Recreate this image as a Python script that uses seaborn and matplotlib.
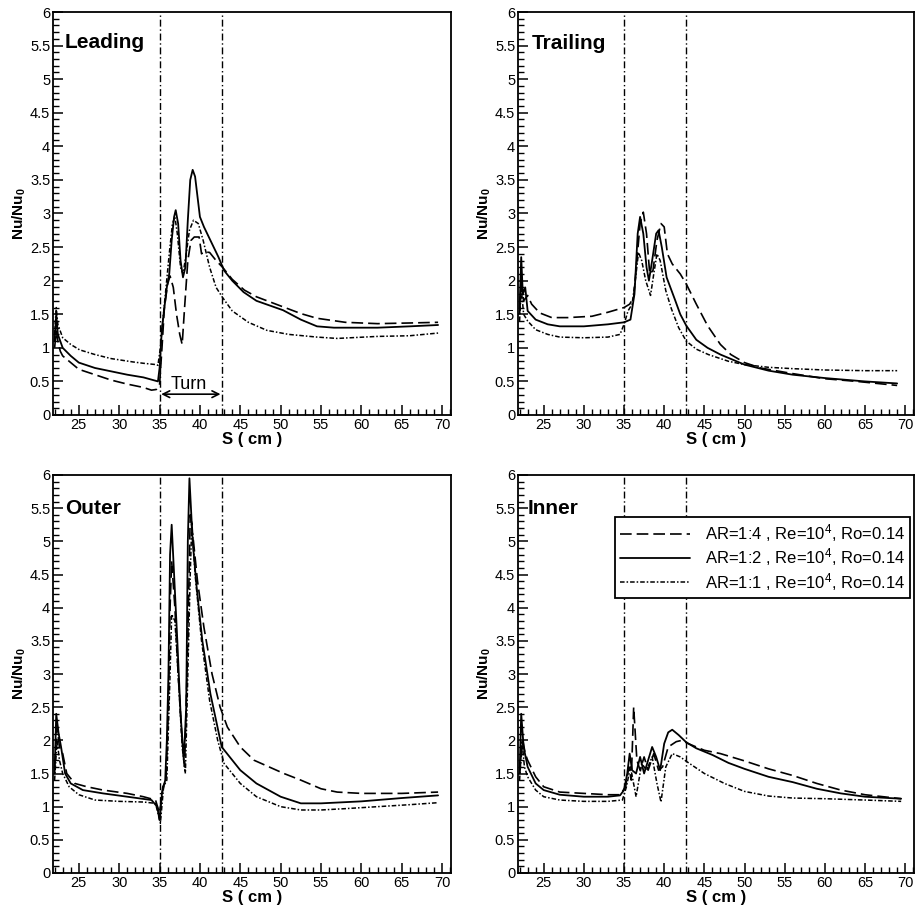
import matplotlib
matplotlib.use('Agg')
import matplotlib.pyplot as plt
from matplotlib.ticker import MultipleLocator, FormatStrFormatter
import seaborn as sns

# --- data (S in cm, Nu/Nu0) ---

# Leading
lead_14_x = [22.0, 22.2, 22.4, 22.7, 23.0, 24, 25, 27, 29, 31, 33, 34, 34.6, 35.0, 35.3, 35.6, 36.0, 36.3, 36.7, 37.1, 37.5, 37.8, 38.1, 38.5, 38.9, 39.3, 39.9, 40.2, 40.5, 41.2, 42.0, 42.8, 44, 45.5, 47, 50.3, 52.5, 54.5, 58, 62, 66, 69.5]
lead_14_y = [1.0, 1.25, 1.1, 0.95, 0.88, 0.78, 0.68, 0.6, 0.52, 0.46, 0.41, 0.37, 0.38, 0.45, 1.0, 1.6, 1.95, 2.07, 1.9, 1.5, 1.2, 1.05, 1.6, 2.3, 2.6, 2.65, 2.65, 2.4, 2.43, 2.42, 2.3, 2.2, 2.02, 1.86, 1.76, 1.61, 1.51, 1.44, 1.38, 1.36, 1.37, 1.38]
lead_12_x = [22.0, 22.2, 22.4, 22.7, 23.0, 24, 25, 27, 29, 31, 33, 34.8, 35.0, 35.3, 35.6, 35.9, 36.2, 36.5, 36.8, 37.0, 37.3, 37.6, 37.9, 38.2, 38.5, 38.8, 39.1, 39.4, 39.7, 40.0, 40.5, 41.5, 42.3, 43.0, 44, 45.4, 47, 50.3, 52.5, 54.5, 56.6, 62, 66, 69.5]
lead_12_y = [1.1, 1.5, 1.2, 1.1, 1.0, 0.88, 0.78, 0.7, 0.65, 0.6, 0.56, 0.5, 0.7, 1.3, 1.6, 1.9, 2.1, 2.6, 2.95, 3.05, 2.85, 2.3, 2.05, 2.2, 2.9, 3.5, 3.65, 3.55, 3.25, 2.95, 2.8, 2.55, 2.35, 2.15, 2.0, 1.83, 1.7, 1.56, 1.42, 1.32, 1.3, 1.3, 1.32, 1.34]
lead_11_x = [22.0, 22.2, 22.4, 22.7, 23.0, 24, 25.1, 27, 29, 31.7, 33, 34.6, 34.8, 35.1, 35.4, 35.8, 36.2, 36.6, 36.9, 37.2, 37.6, 37.9, 38.3, 38.7, 39.2, 39.8, 40.4, 41.2, 42.0, 42.8, 44, 46, 48.3, 51, 54.5, 57, 62, 66, 69.5]
lead_11_y = [1.2, 1.6, 1.35, 1.25, 1.15, 1.05, 0.97, 0.9, 0.84, 0.79, 0.77, 0.75, 0.74, 1.0, 1.4, 1.9, 2.4, 2.85, 2.95, 2.7, 2.2, 2.1, 2.4, 2.75, 2.9, 2.85, 2.6, 2.2, 1.9, 1.75, 1.55, 1.38, 1.26, 1.2, 1.16, 1.14, 1.17, 1.18, 1.22]

# Trailing
trail_14_x = [22.0, 22.2, 22.5, 23.0, 23.5, 24.5, 26, 28, 31, 33, 35, 35.7, 36.2, 36.6, 37.0, 37.4, 37.8, 38.2, 38.6, 39.1, 39.6, 40.0, 40.4, 41.0, 42.0, 42.75, 44, 45.4, 47, 48.3, 50, 52, 55.8, 60, 64, 69]
trail_14_y = [1.5, 2.0, 1.7, 1.78, 1.65, 1.52, 1.45, 1.45, 1.47, 1.53, 1.6, 1.65, 1.75, 2.3, 2.85, 3.02, 2.7, 2.1, 2.15, 2.6, 2.85, 2.8, 2.4, 2.25, 2.1, 1.95, 1.65, 1.33, 1.05, 0.9, 0.78, 0.7, 0.62, 0.54, 0.5, 0.44]
trail_12_x = [22.0, 22.2, 22.4, 22.7, 23.0, 24, 25.5, 27, 30, 33, 35, 35.8, 36.3, 36.7, 37.0, 37.4, 37.8, 38.1, 38.5, 39.0, 39.3, 39.7, 40.3, 41.3, 42.0, 42.75, 44, 45.4, 47, 50, 53, 56, 60, 65, 69]
trail_12_y = [1.6, 2.35, 1.8, 1.9, 1.55, 1.42, 1.35, 1.32, 1.32, 1.35, 1.38, 1.42, 1.8, 2.7, 2.95, 2.7, 2.2, 2.0, 2.3, 2.7, 2.75, 2.5, 2.05, 1.73, 1.5, 1.33, 1.12, 1.0, 0.9, 0.75, 0.66, 0.6, 0.55, 0.5, 0.47]
trail_11_x = [22.0, 22.2, 22.5, 23.0, 24, 25.5, 27, 30, 33, 34.5, 35.0, 35.5, 36.0, 36.4, 36.8, 37.2, 37.7, 38.3, 38.7, 39.1, 39.5, 40.2, 40.9, 41.8, 42.75, 44, 45.5, 48, 50, 53, 56, 60, 65, 69]
trail_11_y = [1.4, 1.9, 1.5, 1.4, 1.27, 1.2, 1.16, 1.15, 1.16, 1.2, 1.35, 1.55, 1.65, 2.0, 2.42, 2.3, 2.0, 1.78, 2.1, 2.4, 2.3, 1.85, 1.58, 1.3, 1.1, 0.98, 0.9, 0.8, 0.75, 0.71, 0.69, 0.67, 0.66, 0.66]

# Outer
outer_14_x = [22.0, 22.3, 22.6, 23.0, 23.5, 24.5, 26, 28, 31, 33, 34.5, 35.0, 35.4, 35.8, 36.1, 36.3, 36.5, 36.9, 37.3, 37.8, 38.1, 38.5, 38.8, 39.2, 39.7, 40.5, 41.5, 42.5, 43.4, 45, 46.7, 50.4, 52.5, 55, 57, 60, 65, 69.5]
outer_14_y = [1.6, 2.2, 1.9, 1.8, 1.5, 1.35, 1.3, 1.25, 1.2, 1.15, 1.1, 0.9, 1.3, 1.4, 2.5, 4.0, 4.7, 4.0, 3.0, 2.0, 1.6, 3.5, 5.4, 5.0, 4.4, 3.7, 3.0, 2.5, 2.2, 1.9, 1.7, 1.5, 1.4, 1.27, 1.22, 1.2, 1.2, 1.22]
outer_12_x = [22.0, 22.2, 22.5, 22.8, 23.3, 24, 25.5, 28, 31, 34, 34.7, 35.0, 35.3, 35.7, 35.9, 36.1, 36.3, 36.5, 36.8, 37.2, 37.6, 38.0, 38.3, 38.5, 38.7, 39.1, 39.6, 40.3, 41.3, 42.7, 45, 47, 50, 52.5, 55, 60, 65, 69.5]
outer_12_y = [1.5, 2.4, 2.1, 1.9, 1.5, 1.35, 1.25, 1.2, 1.15, 1.1, 1.0, 0.8, 1.2, 1.4, 2.0, 3.0, 4.8, 5.25, 4.5, 3.5, 2.4, 1.7, 2.5, 5.0, 5.95, 5.0, 4.3, 3.5, 2.7, 1.9, 1.55, 1.35, 1.15, 1.05, 1.05, 1.08, 1.13, 1.17]
outer_11_x = [22.0, 22.3, 22.6, 23.0, 23.8, 25, 27, 30, 33, 34.5, 35.1, 35.5, 35.9, 36.3, 36.5, 36.9, 37.3, 37.8, 38.2, 38.5, 38.8, 39.0, 39.4, 40.2, 41.2, 42.2, 43.0, 45, 47, 50, 52.5, 55, 58, 62, 66, 69.5]
outer_11_y = [1.4, 2.0, 1.7, 1.5, 1.3, 1.18, 1.1, 1.08, 1.07, 1.05, 0.75, 1.3, 1.4, 3.0, 3.9, 3.8, 3.0, 1.9, 1.5, 3.0, 4.5, 5.3, 4.5, 3.5, 2.6, 2.0, 1.65, 1.35, 1.15, 1.0, 0.95, 0.95, 0.97, 1.0, 1.03, 1.06]

# Inner
inner_14_x = [22.0, 22.4, 22.7, 23.0, 24, 25, 27, 30, 33, 34.5, 35.2, 35.6, 35.9, 36.2, 36.6, 37.0, 37.5, 38.0, 38.7, 39.3, 39.8, 40.5, 41.5, 42.2, 43, 45, 47, 50, 53, 56, 59, 62, 65, 69.5]
inner_14_y = [1.5, 2.0, 1.8, 1.7, 1.45, 1.3, 1.22, 1.2, 1.18, 1.18, 1.3, 1.6, 1.4, 2.5, 1.7, 1.55, 1.75, 1.55, 1.8, 1.55, 1.6, 1.9, 1.98, 2.0, 1.95, 1.85, 1.8, 1.69, 1.57, 1.47, 1.35, 1.25, 1.18, 1.12]
inner_12_x = [22.0, 22.2, 22.5, 23.0, 24, 25, 27, 30, 33, 34.5, 35.0, 35.4, 35.7, 36.0, 36.5, 37.0, 37.5, 38.0, 38.5, 39.0, 39.5, 40.0, 40.5, 41.0, 41.8, 42.75, 44, 46, 48, 50, 53, 56, 59, 62, 65, 69.5]
inner_12_y = [1.5, 2.4, 1.9, 1.6, 1.35, 1.25, 1.18, 1.15, 1.15, 1.17, 1.25, 1.5, 1.8, 1.55, 1.5, 1.75, 1.5, 1.7, 1.9, 1.75, 1.55, 1.95, 2.12, 2.16, 2.08, 1.97, 1.88, 1.78, 1.66, 1.57, 1.45, 1.37, 1.27, 1.2, 1.15, 1.12]
inner_11_x = [22.0, 22.3, 22.6, 23.0, 24, 25, 27, 30, 33, 34.8, 35.3, 35.8, 36.5, 37.2, 37.8, 38.5, 39.1, 39.6, 40.2, 41.0, 42.0, 42.8, 45, 47.5, 50, 53, 56, 60, 65, 69.5]
inner_11_y = [1.4, 2.0, 1.6, 1.45, 1.25, 1.15, 1.1, 1.08, 1.08, 1.1, 1.3, 1.6, 1.15, 1.65, 1.55, 1.75, 1.35, 1.07, 1.6, 1.8, 1.75, 1.68, 1.5, 1.35, 1.23, 1.16, 1.13, 1.12, 1.1, 1.08]

panel_names = ['Leading', 'Trailing', 'Outer', 'Inner']
series_labels = ['AR=1:4 , Re=10$^4$, Ro=0.14',
                 'AR=1:2 , Re=10$^4$, Ro=0.14',
                 'AR=1:1 , Re=10$^4$, Ro=0.14']
turn_start, turn_end = 35.0, 42.75

panel_data = [
    [(lead_14_x, lead_14_y), (lead_12_x, lead_12_y), (lead_11_x, lead_11_y)],
    [(trail_14_x, trail_14_y), (trail_12_x, trail_12_y), (trail_11_x, trail_11_y)],
    [(outer_14_x, outer_14_y), (outer_12_x, outer_12_y), (outer_11_x, outer_11_y)],
    [(inner_14_x, inner_14_y), (inner_12_x, inner_12_y), (inner_11_x, inner_11_y)],
]

# --- style ---
sns.set_theme(style='ticks')
plt.rcParams['font.family'] = ['Liberation Sans', 'DejaVu Sans']
plt.rcParams['mathtext.fontset'] = 'custom'
plt.rcParams['mathtext.rm'] = 'Liberation Sans'
plt.rcParams['mathtext.bf'] = 'Liberation Sans:bold'
plt.rcParams['mathtext.it'] = 'Liberation Sans:italic'
plt.rcParams['text.color'] = 'black'
plt.rcParams['axes.labelcolor'] = 'black'
plt.rcParams['xtick.color'] = 'black'
plt.rcParams['ytick.color'] = 'black'

line_styles = [(0, (7, 3)), '-', (0, (3, 1.3, 1, 1.3))]
line_widths = [1.2, 1.3, 1.1]

fig = plt.figure(figsize=(9.15, 9.23), dpi=100)
fig.patch.set_facecolor('white')

positions = [
    [53 / 915, 508 / 923, 398 / 915, 403 / 923],
    [518 / 915, 508 / 923, 396 / 915, 403 / 923],
    [53 / 915, 50 / 923, 398 / 915, 398 / 923],
    [518 / 915, 50 / 923, 396 / 915, 398 / 923],
]
label_pos = [(0.028, 0.924), (0.035, 0.922), (0.03, 0.917), (0.025, 0.917)]

axes = []
for i, name in enumerate(panel_names):
    ax = fig.add_axes(positions[i])
    ax.set_facecolor('white')
    for j, (xs, ys) in enumerate(panel_data[i]):
        sns.lineplot(x=xs, y=ys, ax=ax, color='black', sort=False,
                     estimator=None, lw=line_widths[j], label=series_labels[j])
        ax.lines[-1].set_linestyle(line_styles[j])
    for xv in (turn_start, turn_end):
        ax.axvline(xv, color='black', lw=1.0, ls=(0, (5, 2, 1, 2)))

    ax.set_xlim(21.8, 71.1)
    ax.set_ylim(0, 6)
    ax.xaxis.set_major_locator(MultipleLocator(5))
    ax.xaxis.set_minor_locator(MultipleLocator(1))
    ax.yaxis.set_major_locator(MultipleLocator(0.5))
    ax.yaxis.set_minor_locator(MultipleLocator(0.1))
    ax.yaxis.set_major_formatter(FormatStrFormatter('%g'))
    ax.tick_params(which='both', direction='in', top=False, right=False,
                   colors='black', labelsize=10.5, pad=2)
    ax.tick_params(which='major', length=7, width=1.1)
    ax.tick_params(which='minor', length=4, width=1.0)
    for sp in ax.spines.values():
        sp.set_visible(True)
        sp.set_color('black')
        sp.set_linewidth(1.3)

    ax.set_xlabel('S ( cm )', fontsize=12, fontweight='bold', labelpad=0)
    ax.set_ylabel('Nu/Nu$_\\mathbf{0}$', fontsize=11, fontweight='bold', labelpad=1)
    ax.text(label_pos[i][0], label_pos[i][1], name, transform=ax.transAxes,
            fontsize=15, fontweight='bold', va='center', ha='left')
    if ax.get_legend() is not None:
        ax.get_legend().remove()
    axes.append(ax)

# turn marker on the leading panel
axes[0].annotate('', xy=(turn_start + 0.2, 0.31), xytext=(turn_end - 0.2, 0.31),
                 arrowprops=dict(arrowstyle='<->', lw=1.2, color='black',
                                 shrinkA=0, shrinkB=0))
axes[0].text((turn_start + turn_end) / 2 - 0.3, 0.33, 'Turn', fontsize=13,
             ha='center', va='bottom')

# legend on the inner panel
handles = axes[3].lines[:3]
leg = axes[3].legend(handles, series_labels, loc='upper right',
                     bbox_to_anchor=(0.99, 0.894), fontsize=12,
                     handlelength=4.2, frameon=True, fancybox=False,
                     borderpad=0.3, labelspacing=0.15, handletextpad=0.9,
                     borderaxespad=0)
leg.get_frame().set_edgecolor('black')
leg.get_frame().set_linewidth(1.3)
leg.get_frame().set_alpha(1)

fig.savefig('out.png', dpi=100, facecolor='white')
